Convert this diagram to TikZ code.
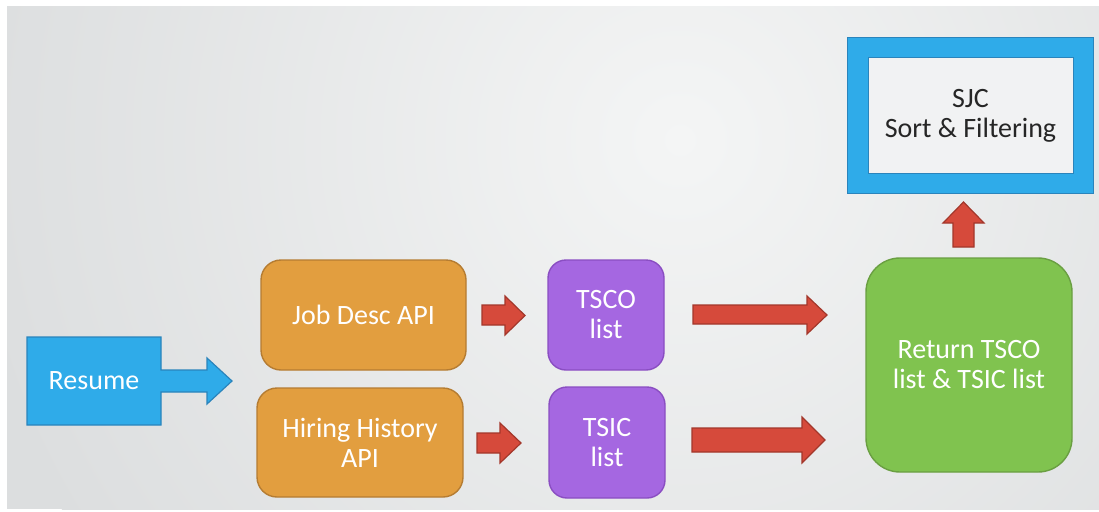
\documentclass[tikz,border=0pt]{standalone}
\usepackage{fontspec}
\setmainfont{Carlito}
\begin{document}
\begin{tikzpicture}[x=1pt,y=-1pt,
  every node/.style={font=\fontsize{28}{30}\selectfont, align=center, inner sep=0pt},
  orangebox/.style={draw=boxorangeD, fill=boxorange, line width=1.4pt, rounded corners=20pt, text=white},
  purplebox/.style={draw=boxpurpleD, fill=boxpurple, line width=1.4pt, rounded corners=18pt, text=white},
  greenbox/.style={draw=boxgreenD, fill=boxgreen, line width=1.4pt, rounded corners=34pt, text=white},
  redarrow/.style={draw=arrowredD, fill=arrowred, line width=1.2pt, line join=miter},
]
\definecolor{bgA}{HTML}{F4F5F5}
\definecolor{bgB}{HTML}{DCDEDF}
\definecolor{boxblue}{HTML}{2FABE9}
\definecolor{boxblueD}{HTML}{2A84BC}
\definecolor{boxorange}{HTML}{E29E3F}
\definecolor{boxorangeD}{HTML}{B57C32}
\definecolor{boxpurple}{HTML}{A567E1}
\definecolor{boxpurpleD}{HTML}{8A4EC2}
\definecolor{boxgreen}{HTML}{80C34F}
\definecolor{boxgreenD}{HTML}{6A9F42}
\definecolor{arrowred}{HTML}{D64A3B}
\definecolor{arrowredD}{HTML}{A3372B}
\definecolor{innerfill}{HTML}{F1F2F3}
\useasboundingbox (0,0) rectangle (1099,511);
\fill[white] (0,0) rectangle (1099,511);
\begin{scope}
\clip (7,7) rectangle (1099,509);
\fill[bgB] (7,7) rectangle (1099,509);
\shade[inner color=bgA, outer color=bgB] (680,140) circle (720);
\end{scope}

% SJC box
\node[draw=boxblueD, fill=boxblue, line width=1pt, minimum width=246pt, minimum height=155pt] (sjcout) at (970,115.5) {};
\node[draw=boxblueD, fill=innerfill, line width=1pt, minimum width=205pt, minimum height=115pt, text=black!85] (sjc) at (970.5,115.5) {SJC\\Sort \& Filtering};

% Resume
\draw[draw=boxblueD, fill=boxblue, line width=1.2pt] (27,337) -- (161,337) -- (161,370) -- (207,370) -- (207,358) -- (232,381) -- (207,404) -- (207,392) -- (161,392) -- (161,425) -- (27,425) -- cycle;
\node[text=white] (resume) at (94,381) {Resume};

% Orange boxes
\node[orangebox, minimum width=205pt, minimum height=110pt] (job) at (363.5,315) {Job Desc API};
\node[orangebox, minimum width=206pt, minimum height=109pt] (hire) at (360,442.5) {Hiring History\\API};

% Purple boxes
\node[purplebox, minimum width=116pt, minimum height=110pt] (tsco) at (606,315) {TSCO\\list};
\node[purplebox, minimum width=116pt, minimum height=111pt] (tsic) at (607,442.5) {TSIC\\list};

% Green box
\node[greenbox, minimum width=206pt, minimum height=214pt] (ret) at (969,365) {Return TSCO\\list \& TSIC list};

% Red arrows
\draw[redarrow] (482,305) -- (505,305) -- (505,296) -- (525,315.5) -- (505,335) -- (505,325) -- (482,325) -- cycle;
\draw[redarrow] (477,433) -- (500,433) -- (500,423) -- (521,443) -- (500,463) -- (500,453) -- (477,453) -- cycle;
\draw[redarrow] (693,305) -- (807,305) -- (807,296) -- (827,315) -- (807,334) -- (807,324) -- (693,324) -- cycle;
\draw[redarrow] (692,428) -- (802,428) -- (802,417) -- (825,440) -- (802,463) -- (802,452) -- (692,452) -- cycle;
\draw[redarrow] (953,247) -- (953,223) -- (943,223) -- (963.5,202) -- (984,223) -- (974,223) -- (974,247) -- cycle;
\end{tikzpicture}
\end{document}
